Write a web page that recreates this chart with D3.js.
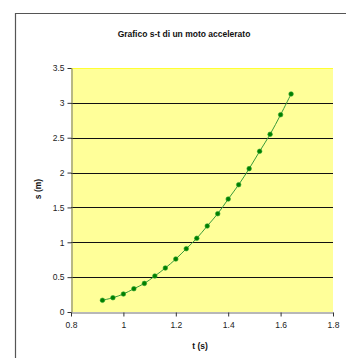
<!DOCTYPE html>
<html lang="en">
<head>
<meta charset="UTF-8">
<title>Grafico s-t</title>
<script src="https://d3js.org/d3.v7.min.js"></script>
<style>
  body, html { margin: 0; padding: 0; background: #fff; overflow: hidden; }
  svg { display: block; font-family: 'Liberation Sans', Arial, sans-serif; }
</style>
</head>
<body>
<svg id="chart" width="346" height="358"></svg>
<script>
// tempo (s) e spazio (m)
const times = [0.92, 0.96, 1.00, 1.04, 1.08, 1.12, 1.16, 1.20, 1.24, 1.28,
               1.32, 1.36, 1.40, 1.44, 1.48, 1.52, 1.56, 1.60, 1.64];
const spaces = [0.168, 0.205, 0.258, 0.334, 0.41, 0.516, 0.631, 0.76, 0.908, 1.057,
                1.234, 1.41, 1.62, 1.826, 2.056, 2.305, 2.549, 2.83, 3.127];
const xTicks = [0.8, 1, 1.2, 1.4, 1.6, 1.8];
const yTicks = [0, 0.5, 1, 1.5, 2, 2.5, 3, 3.5];

const svg = d3.select("#chart");
const plot = {left: 71, top: 68, right: 333, bottom: 312};

// outer chart frame (cut by the window on right and bottom)
svg.append("path")
    .attr("d", "M15.5,358V13.5H346")
    .attr("fill", "none").attr("stroke", "#555").attr("stroke-width", 1.2);

const x = d3.scaleLinear().domain([0.8, 1.8]).range([plot.left, plot.right]);
const y = d3.scaleLinear().domain([0, 3.5]).range([plot.bottom, plot.top]);

svg.append("rect")
    .attr("x", plot.left).attr("y", plot.top)
    .attr("width", plot.right - plot.left).attr("height", plot.bottom - plot.top)
    .attr("fill", "#ffff99");

// gridlines
svg.append("g")
    .selectAll("line")
    .data(yTicks.slice(1, -1))
    .join("line")
    .attr("x1", plot.left).attr("x2", plot.right)
    .attr("y1", d => Math.round(y(d)) + 0.5).attr("y2", d => Math.round(y(d)) + 0.5)
    .attr("stroke", "#111").attr("stroke-width", 1);

// top edge of plot
svg.append("line")
    .attr("x1", plot.left).attr("x2", plot.right)
    .attr("y1", plot.top + 0.5).attr("y2", plot.top + 0.5)
    .attr("stroke", "#ffff33");

// axes
const yAxis = svg.append("g")
    .attr("transform", `translate(${plot.left + 0.5},0)`)
    .call(d3.axisLeft(y).tickValues(yTicks).tickSize(4).tickSizeOuter(0)
        .tickFormat(d => d === 0 ? "0" : d3.format("~g")(d)));
const xAxis = svg.append("g")
    .attr("transform", `translate(0,${plot.bottom + 0.5})`)
    .call(d3.axisBottom(x).tickValues(xTicks).tickSize(4).tickSizeOuter(0)
        .tickFormat(d => d === 1 ? "1" : d3.format(".1f")(d)));

[yAxis, xAxis].forEach(g => {
    g.select(".domain").attr("stroke", "#707070");
    g.selectAll(".tick line").attr("stroke", "#333");
    g.selectAll(".tick text").attr("fill", "#222").attr("font-size", 8.5)
        .attr("font-family", "'Liberation Sans', Arial, sans-serif");
});
yAxis.selectAll(".tick text").attr("x", -7);
xAxis.selectAll(".tick text").attr("y", 9);

// curve
const pts = times.map((t, i) => [t, spaces[i]]);
const line = d3.line().x(d => x(d[0])).y(d => y(d[1])).curve(d3.curveCatmullRom);
svg.append("path")
    .datum(pts)
    .attr("d", line)
    .attr("fill", "none").attr("stroke", "#3a9a3a").attr("stroke-width", 1);

svg.append("g")
    .selectAll("circle")
    .data(pts)
    .join("circle")
    .attr("cx", d => x(d[0])).attr("cy", d => y(d[1]))
    .attr("r", 2.3)
    .attr("fill", "#008000").attr("stroke", "#2f9f2f").attr("stroke-width", 0.6);

// titles
svg.append("text")
    .attr("x", 184).attr("y", 37)
    .attr("text-anchor", "middle")
    .attr("font-size", 8.5).attr("font-weight", "bold").attr("fill", "#111")
    .text("Grafico s-t di un moto accelerato");

svg.append("text")
    .attr("x", 200).attr("y", 349)
    .attr("text-anchor", "middle")
    .attr("font-size", 8.5).attr("font-weight", "bold").attr("fill", "#111")
    .text("t (s)");

svg.append("text")
    .attr("transform", "translate(41,189) rotate(-90)")
    .attr("text-anchor", "middle")
    .attr("font-size", 8.5).attr("font-weight", "bold").attr("fill", "#111")
    .text("s (m)");
</script>
</body>
</html>
